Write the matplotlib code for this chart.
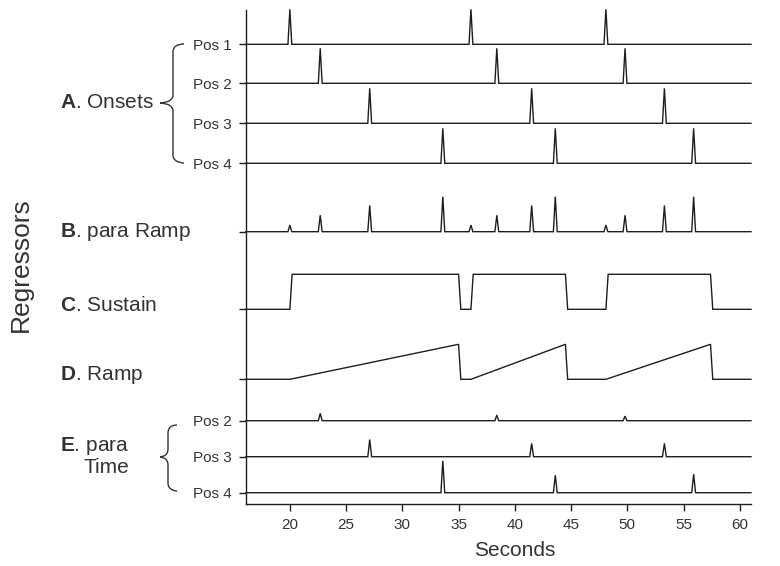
import numpy as np
import matplotlib
matplotlib.use("Agg")
import matplotlib.pyplot as plt
from matplotlib.path import Path
from matplotlib.patches import PathPatch

plt.rcParams['font.family'] = ['Liberation Sans', 'DejaVu Sans']
plt.rcParams['mathtext.fontset'] = 'custom'
plt.rcParams['mathtext.rm'] = 'Liberation Sans'
plt.rcParams['mathtext.bf'] = 'Liberation Sans:bold'

# =========== Data (seconds) ===========
pos1_onsets = [20.0, 36.1, 48.1]
pos2_onsets = [22.7, 38.4, 49.8]
pos3_onsets = [27.1, 41.5, 53.3]
pos4_onsets = [33.6, 43.6, 55.9]
trial_offsets = [35.0, 44.5, 57.4]

# parametric ramp amplitudes by position (relative to onset height)
para_ramp_amp = [0.19, 0.47, 0.75, 1.0]
# parametric time amplitudes, one per trial, for Pos 2-4
para_time_pos2 = [0.21, 0.16, 0.13]
para_time_pos3 = [0.49, 0.38, 0.38]
para_time_pos4 = [0.91, 0.50, 0.53]

x_min, x_max = 16.1, 61.0
xticks = [20, 25, 30, 35, 40, 45, 50, 55, 60]

# =========== Layout ===========
row_h = 35.0          # height of unit signal in pixel-ish data units
spike_w = 0.17        # half width of a spike (s)
edge_w = 0.2          # ramp / sustain edge duration (s)
line_c = '#1e1e1e'
text_c = '#333333'

baselines = {
    'A1': 459.7, 'A2': 420.7, 'A3': 380.7, 'A4': 340.7,
    'B': 272.3, 'C': 194.7, 'D': 124.7,
    'E2': 83.3, 'E3': 47.3, 'E4': 11.3,
}


def spike_trace(onsets, amps):
    xs, ys = [x_min], [0.0]
    for t, a in sorted(zip(onsets, amps)):
        xs += [t - spike_w, t, t + spike_w]
        ys += [0.0, a, 0.0]
    xs.append(x_max)
    ys.append(0.0)
    return np.array(xs), np.array(ys)


def block_trace(starts, stops, ramp=False):
    xs, ys = [x_min], [0.0]
    for s, e in zip(starts, stops):
        xs += [s, s + (0 if ramp else edge_w), e, e + edge_w]
        ys += [0.0, 1.0 if not ramp else 0.0, 1.0, 0.0]
    xs.append(x_max)
    ys.append(0.0)
    return np.array(xs), np.array(ys)


fig = plt.figure(figsize=(7.8, 5.66), dpi=100)
W, H = 780, 566
ax = fig.add_axes([246 / W, (H - 504) / H, (751 - 246) / W, 494 / H])
ax.set_xlim(x_min, x_max)
ax.set_ylim(0, 494)


def draw(key, xs, ys):
    ax.plot(xs, baselines[key] + row_h * ys, color=line_c, lw=1.0,
            solid_joinstyle='miter', clip_on=False)


# A. Onsets
for key, ons in zip(['A1', 'A2', 'A3', 'A4'],
                    [pos1_onsets, pos2_onsets, pos3_onsets, pos4_onsets]):
    draw(key, *spike_trace(ons, [1.0] * len(ons)))

# B. para Ramp
all_on, all_amp = [], []
for ons, a in zip([pos1_onsets, pos2_onsets, pos3_onsets, pos4_onsets], para_ramp_amp):
    all_on += ons
    all_amp += [a] * len(ons)
draw('B', *spike_trace(all_on, all_amp))

# C. Sustain
draw('C', *block_trace(pos1_onsets, trial_offsets))

# D. Ramp
draw('D', *block_trace(pos1_onsets, trial_offsets, ramp=True))

# E. para Time
draw('E2', *spike_trace(pos2_onsets, para_time_pos2))
draw('E3', *spike_trace(pos3_onsets, para_time_pos3))
draw('E4', *spike_trace(pos4_onsets, para_time_pos4))

# axes styling
for s in ['top', 'right']:
    ax.spines[s].set_visible(False)
for s in ['left', 'bottom']:
    ax.spines[s].set_color(line_c)
    ax.spines[s].set_linewidth(1.0)

tick_keys = ['A1', 'A2', 'A3', 'A4', 'B', 'C', 'D', 'E2', 'E3', 'E4']
tick_lbls = ['Pos 1', 'Pos 2', 'Pos 3', 'Pos 4', '', '', '', 'Pos 2', 'Pos 3', 'Pos 4']
ax.set_yticks([baselines[k] for k in tick_keys])
ax.set_yticklabels(tick_lbls)
ax.tick_params(axis='y', length=5, width=1.0, color=line_c, labelsize=11,
               labelcolor=text_c, pad=5)
ax.set_xticks(xticks)
ax.tick_params(axis='x', length=5, width=1.0, color=line_c, labelsize=11,
               labelcolor=text_c, pad=5)

fig.text(515 / W, 1 - 550 / H, 'Seconds', fontsize=15, color=text_c,
         ha='center', va='center')
fig.text(21 / W, 1 - 265 / H, 'Regressors', fontsize=19, color=text_c,
         ha='center', va='center', rotation=90)

# group labels
group_labels = [
    (r'$\bf{A}$. Onsets', 103),
    (r'$\bf{B}$. para Ramp', 232),
    (r'$\bf{C}$. Sustain', 305),
    (r'$\bf{D}$. Ramp', 375),
    (r'$\bf{E}$. para' + '\nTime', 456),
]
for txt, yp in group_labels:
    fig.text(60 / W, 1 - yp / H, txt, fontsize=15, color=text_c,
             ha='left', va='center', multialignment='right', linespacing=1.1)


def brace(x_end, x_mid, x_tip, y_top, y_tip, y_bot):
    r = 8
    verts = [
        (x_end, y_top), (x_mid, y_top), (x_mid, y_top + r),
        (x_mid, y_tip - r),
        (x_mid, y_tip), (x_tip, y_tip), (x_tip, y_tip),
        (x_tip, y_tip), (x_mid, y_tip), (x_mid, y_tip + r),
        (x_mid, y_bot - r),
        (x_mid, y_bot), (x_end, y_bot), (x_end, y_bot),
    ]
    codes = [Path.MOVETO, Path.CURVE3, Path.CURVE3, Path.LINETO,
             Path.CURVE4, Path.CURVE4, Path.CURVE4,
             Path.CURVE4, Path.CURVE4, Path.CURVE4,
             Path.LINETO,
             Path.CURVE4, Path.CURVE4, Path.CURVE4]
    verts = [(vx / W, 1 - vy / H) for vx, vy in verts]
    fig.add_artist(PathPatch(Path(verts, codes), transform=fig.transFigure,
                             fill=False, edgecolor=text_c, lw=1.0))


brace(184, 173, 160, 44, 103, 163)
brace(177, 168, 160, 425, 457, 491)

fig.savefig('out.png', dpi=100)
